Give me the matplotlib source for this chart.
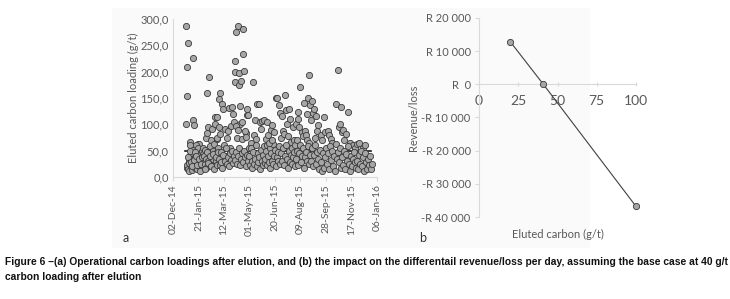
import datetime as dt
import matplotlib
matplotlib.use("Agg")
import matplotlib.pyplot as plt
from matplotlib.patches import Rectangle

# ---- data (a): day offset from 02-Dec-14, eluted carbon loading (g/t)
start = dt.date(2014, 12, 2)
days = [
    25, 25, 27, 28, 29, 33, 34, 39, 39, 41, 50, 51,
    27, 28, 30, 31, 32, 33, 34, 35, 36, 37, 38, 40, 42, 43, 44, 45, 46, 47, 48, 49, 50, 51, 52, 53, 54, 55, 56, 57, 58, 59, 60,
    29, 31, 34, 36, 38, 41, 43, 46, 48, 51, 53, 55, 57, 59,
    61, 62, 63, 64, 65, 65, 67, 67, 69, 69, 70, 71, 72, 73, 74, 75, 76, 77, 78, 79, 80, 81, 82, 83, 84, 85, 86, 87, 87, 88, 89,
    63, 66, 68, 72, 75, 78, 81, 84, 86, 89,
    91, 91, 93, 93, 96, 98, 100, 102, 104, 106, 108, 110, 112, 114, 116, 118, 120,
    90, 92, 94, 95, 97, 99, 101, 103, 105, 107, 109, 111, 113, 115, 117, 119,
    122, 122, 122, 124, 126, 128, 130, 130, 132, 132, 134, 136, 138, 138, 140, 144, 144, 146, 146, 148,
    124, 128, 136, 142,
    121, 123, 125, 127, 129, 131, 133, 135, 137, 139, 141, 143, 145, 147, 149,
    156, 161, 165, 168, 170, 172, 175, 178, 152, 158, 163,
    150, 151, 153, 154, 155, 157, 159, 160, 162, 164, 166, 167, 169, 171, 173, 174, 176, 177, 179, 180,
    181, 182, 184, 185, 187, 188, 190, 191, 193, 194, 196, 197, 199, 200, 202, 203, 205, 206, 208, 209,
    183, 186, 189, 192, 195, 198, 201, 204, 207, 209, 185, 195,
    212, 216, 218, 220, 222, 224, 226, 228, 230, 232, 236, 238, 214,
    211, 213, 215, 217, 219, 221, 223, 225, 227, 229, 231, 233, 234, 235, 237, 239, 240,
    242, 246, 246, 250, 252, 254, 256, 258, 260, 262, 264, 266, 268, 270, 244, 248, 262, 266,
    241, 243, 245, 247, 249, 251, 253, 255, 257, 259, 261, 263, 265, 267, 269,
    272, 274, 276, 278, 280, 282, 284, 290, 293, 296, 298,
    271, 273, 275, 277, 279, 281, 283, 285, 287, 289, 291, 293, 295, 297, 299, 300,
    303, 306, 309, 312, 319, 323, 325, 327, 329, 331, 333,
    301, 303, 305, 307, 309, 311, 313, 315, 317, 319, 321, 323, 325, 327, 329,
    335, 340, 344, 348, 352, 356, 360,
    331, 333, 335, 337, 339, 341, 343, 345, 347, 349, 351, 353, 355, 357, 359,
    364, 368, 372, 376,
    361, 363, 365, 367, 369, 371, 373, 375, 377, 379, 381, 383, 385, 387, 389, 391,
]
loading = [
    287, 101, 209, 153, 255, 67, 61, 225, 109, 99, 62, 63,
    18, 22, 15, 30, 12, 40, 25, 20, 45, 14, 35, 52, 28, 18, 38, 60, 24, 15, 48, 32, 55, 20, 42, 28, 16, 36, 50, 25, 44, 18, 30,
    38, 26, 50, 28, 20, 33, 48, 40, 22, 35, 12, 25, 38, 55,
    40, 25, 52, 35, 75, 18, 160, 84, 94, 30, 189, 45, 22, 58, 38, 70, 28, 92, 50, 35, 62, 20, 100, 113, 45, 30, 72, 113, 75, 55, 25,
    15, 48, 26, 40, 20, 44, 15, 38, 22, 48,
    149, 94, 159, 82, 139, 130, 60, 92, 40, 75, 88, 131, 55, 96, 132, 120, 105,
    35, 22, 48, 28, 18, 42, 30, 55, 25, 38, 20, 45, 32, 50, 26, 40,
    220, 199, 181, 275, 75, 286, 197, 174, 134, 101, 183, 73, 281, 233, 202, 84, 76, 130, 118, 118,
    96, 90, 105, 88,
    32, 48, 25, 40, 55, 22, 35, 45, 28, 50, 38, 20, 42, 30, 55,
    181, 109, 139, 139, 105, 92, 107, 109, 65, 80, 72,
    40, 22, 55, 30, 18, 48, 25, 35, 60, 20, 45, 28, 38, 15, 52, 30, 22, 42, 58, 26,
    35, 50, 22, 60, 40, 28, 55, 18, 45, 30, 62, 25, 40, 52, 20, 38, 48, 30, 58, 25,
    72, 80, 65, 90, 70, 85, 150, 150, 137, 122, 105, 98,
    75, 88, 82, 155, 128, 101, 78, 130, 110, 66, 95, 70, 115,
    45, 30, 55, 22, 40, 60, 35, 18, 50, 28, 42, 55, 25, 38, 48, 20, 60,
    100, 124, 110, 171, 85, 78, 140, 88, 80, 120, 150, 193, 137, 109, 70, 95, 70, 65,
    35, 50, 22, 45, 60, 28, 40, 55, 18, 38, 48, 30, 58, 25, 42,
    145, 122, 130, 75, 115, 88, 98, 80, 70, 113, 85,
    30, 55, 20, 42, 60, 25, 48, 35, 15, 52, 28, 12, 45, 17, 38, 55,
    88, 80, 73, 65, 139, 204, 95, 100, 132, 85, 90,
    25, 45, 15, 58, 32, 50, 20, 40, 12, 62, 35, 48, 28, 55, 18,
    70, 82, 123, 65, 60, 55, 63,
    38, 22, 50, 15, 44, 30, 58, 25, 12, 40, 20, 35, 48, 28, 18,
    65, 45, 55, 60,
    30, 15, 42, 25, 50, 20, 38, 12, 45, 28, 16, 35, 22, 40, 15, 25,
]
ref_days = [24, 388]
ref_level = [50, 50]
a_ticks = ["02-Dec-14", "21-Jan-15", "12-Mar-15", "01-May-15", "20-Jun-15",
           "09-Aug-15", "28-Sep-15", "17-Nov-15", "06-Jan-16"]

# ---- data (b)
carbon = [20, 41, 100]
revenue = [12800, 0, -36800]
b_yticks = [20000, 10000, 0, -10000, -20000, -30000, -40000]
b_ylabels = ["R 20 000", "R 10 000", "R  0", "-R 10 000", "-R 20 000", "-R 30 000", "-R 40 000"]
b_xticks = [0, 25, 50, 75, 100]

caption = ("Figure 6 \u2013(a) Operational carbon loadings after elution, and (b) the impact on the "
           "differentail revenue/loss per day, assuming the base case at 40 g/t\ncarbon loading after elution")

plt.rcParams['font.family'] = ['Lato', 'DejaVu Sans']
txt = '#595959'
spine = '#d9d9d9'

fig = plt.figure(figsize=(7.3, 2.99), dpi=100)
bg = Rectangle((112 / 730, 1 - 248 / 299), 478 / 730, 240 / 299,
               transform=fig.transFigure, facecolor='#fafafa', edgecolor='none')
bg.set_zorder(-5)
fig.add_artist(bg)

# panel a
ax = fig.add_axes([173 / 730, 1 - 177 / 299, 204 / 730, 158 / 299])
ax.set_zorder(2)
ax.set_facecolor('none')
xd = [start + dt.timedelta(days=d) for d in days]
ax.scatter(xd, loading, s=20, facecolor='#a6a6a6', edgecolor='#3a3a3a', linewidths=0.6, zorder=3)
ax.plot([start + dt.timedelta(days=d) for d in ref_days], ref_level, color='#1a1a1a', lw=1.2, zorder=2)
tick_dates = [start + dt.timedelta(days=50 * i) for i in range(len(a_ticks))]
ax.set_xlim(tick_dates[0], tick_dates[-1])
ax.set_xticks(tick_dates)
ax.set_xticklabels(a_ticks, rotation=90, fontsize=7.5, color=txt)
ax.set_ylim(0, 300)
ax.set_yticks(range(0, 301, 50))
ax.set_yticklabels([f"{v},0" for v in range(0, 301, 50)], fontsize=8, color=txt)
ax.set_ylabel("Eluted carbon loading (g/t)", fontsize=8, color=txt, labelpad=1)
for s in ['top', 'right']:
    ax.spines[s].set_visible(False)
for s in ['left', 'bottom']:
    ax.spines[s].set_color(spine)
ax.tick_params(axis='x', colors=spine, labelcolor=txt, length=3, pad=2)
ax.tick_params(axis='y', length=0, pad=3, labelcolor=txt)

# panel b
bx = fig.add_axes([479 / 730, 1 - 217 / 299, 157 / 730, 199 / 299])
bx.set_zorder(2)
bx.set_facecolor('none')
bx.plot(carbon, revenue, color='#404040', lw=0.8, marker='o', ms=4.5,
        mfc='#a6a6a6', mec='#3a3a3a', mew=0.6, zorder=3, clip_on=False)
bx.set_xlim(0, 100)
bx.set_ylim(-40000, 20000)
bx.set_yticks(b_yticks)
bx.set_yticklabels(b_ylabels, fontsize=8, color=txt)
bx.set_xticks(b_xticks)
bx.set_xticklabels([str(v) for v in b_xticks], fontsize=8, color=txt)
for s in ['top', 'right']:
    bx.spines[s].set_visible(False)
bx.spines['bottom'].set_position(('data', 0))
bx.spines['bottom'].set_color(spine)
bx.spines['left'].set_color(spine)
bx.tick_params(axis='x', colors=spine, labelcolor=txt, length=3, direction='inout', pad=6)
bx.tick_params(axis='y', colors=spine, labelcolor=txt, length=3, pad=3)
bx.set_ylabel("Revenue/loss", fontsize=8, color=txt, labelpad=2)
bx.xaxis.set_label_coords(0.5, -0.06)
bx.set_xlabel("Eluted carbon (g/t)", fontsize=8, color=txt)

fig.text(126 / 730, 1 - 238 / 299, "a", fontsize=9, color='#333333', ha='center', va='center')
fig.text(423 / 730, 1 - 238 / 299, "b", fontsize=9, color='#333333', ha='center', va='center')

fig.text(5 / 730, 1 - 257 / 299, caption, fontsize=7.4, fontweight='bold', va='top', ha='left',
         family=['Liberation Sans', 'DejaVu Sans'], linespacing=1.65, color='#111111')

fig.savefig("out.png", dpi=100)
